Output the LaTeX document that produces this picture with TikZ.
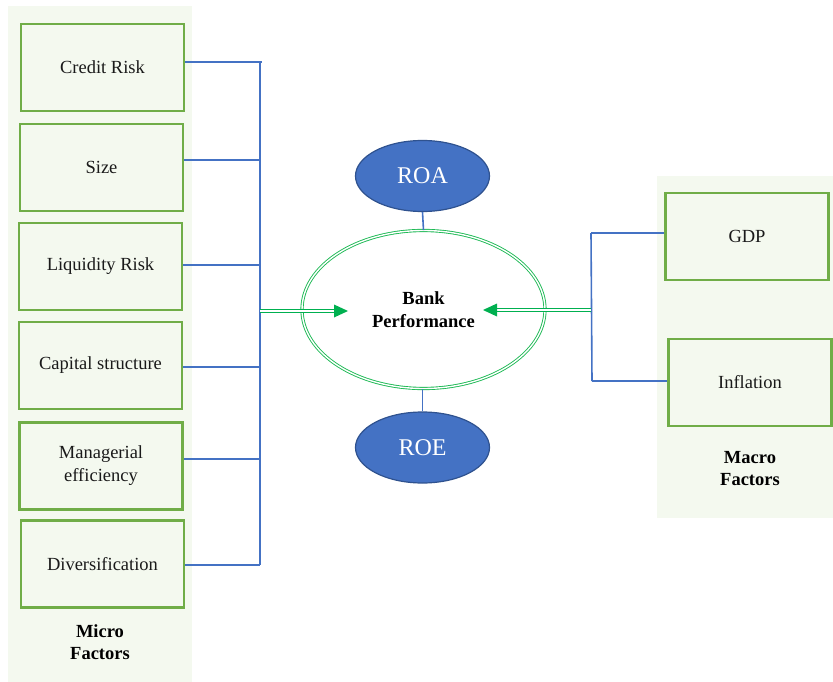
\documentclass[tikz,border=0pt]{standalone}
\usepackage{fontspec}
\setmainfont{Liberation Serif}
\usetikzlibrary{arrows.meta,shapes.geometric}
\definecolor{panelbg}{HTML}{F4F9EF}
\definecolor{boxgreen}{HTML}{70AD47}
\definecolor{busblue}{HTML}{4472C4}
\definecolor{arrgreen}{HTML}{00B050}
\definecolor{ellgreen}{HTML}{1DB954}
\definecolor{darkblue}{HTML}{2F528F}
\definecolor{txt}{HTML}{1A1A1A}
\tikzset{
  factorbox/.style={draw=boxgreen, line width=2.8pt, fill=panelbg, minimum width=163pt, minimum height=87pt, inner sep=2pt, align=center, text=txt, font=\fontsize{18.5}{23}\selectfont},
  groupname/.style={align=center, font=\fontsize{18.5}{22}\selectfont\bfseries, text=black},
  busline/.style={draw=busblue, line width=1.6pt},
  metric/.style={ellipse, draw=darkblue, line width=1.2pt, fill=busblue, minimum width=134pt, minimum height=71pt, text=white, font=\fontsize{24}{28}\selectfont},
  dbl/.style={draw=arrgreen, double=white, line width=1pt, double distance=1.3pt},
  tipfill/.style={fill=arrgreen, draw=none}
}
\begin{document}
\begin{tikzpicture}[x=1pt,y=-1pt]
\useasboundingbox (0,0) rectangle (833,682);
% panels
\fill[panelbg] (8,6) rectangle (192,682);
\fill[panelbg] (657,176) rectangle (833,518);
% left boxes
\node[factorbox] (cr) at (102.5,67.5) {Credit Risk};
\node[factorbox] (sz) at (101.5,167.5) {Size};
\node[factorbox] (lr) at (100.5,266.5) {Liquidity Risk};
\node[factorbox] (cs) at (100.5,365.5) {Capital structure};
\node[factorbox] (me) at (101,466) {Managerial\\efficiency};
\node[factorbox] (dv) at (102.5,564) {Diversification};
\node[groupname] (micro) at (100,642) {Micro\\Factors};
% right boxes
\node[factorbox] (gdp) at (747,236.5) {GDP};
\node[factorbox] (inf) at (750,382.5) {Inflation};
\node[groupname] (macro) at (750,469) {Macro\\Factors};
% center
\node[ellipse, draw=ellgreen, double=white, line width=0.9pt, double distance=1.4pt, minimum width=243pt, minimum height=158pt, align=center, font=\fontsize{18.5}{23}\selectfont\bfseries] (bp) at (423.5,309.5) {Bank\\Performance};
\node[metric] (roa) at (422.5,176) {ROA};
\node[metric] (roe) at (422.5,447.5) {ROE};
\draw[busline] (roa.south) -- (bp.north);
\draw[busline] (roe.north) -- (roe.north |- bp.south);
% left bus
\coordinate (b1) at (260,62);
\coordinate (b2) at (260,160);
\coordinate (b3) at (260,265);
\coordinate (b4) at (260,367);
\coordinate (b5) at (260,459);
\coordinate (b6) at (260,565);
\coordinate (bm) at (260,311);
\draw[busline] (b1) -- (b6);
\draw[busline] (b1 -| cr.east) -- ([xshift=2pt]b1);
\draw[busline] (b2 -| sz.east) -- (b2);
\draw[busline] (b3 -| lr.east) -- (b3);
\draw[busline] (b4 -| cs.east) -- (b4);
\draw[busline] (b5 -| me.east) -- (b5);
\draw[busline] (b6 -| dv.east) -- (b6);
% left arrow
\coordinate (ltip) at (348,311);
\draw[dbl] (bm) -- ([xshift=-12pt]ltip);
\fill[tipfill] (ltip) -- ++(-14,-6.5) -- ++(0,13) -- cycle;
% right bus
\coordinate (r1) at (591,233);
\coordinate (r2) at (592,381);
\coordinate (rm) at (591,310);
\draw[busline] (r1) -- (r2);
\draw[busline] (r1) -- (r1 -| gdp.west);
\draw[busline] (r2) -- (r2 -| inf.west);
\coordinate (rtip) at (483,310);
\draw[dbl] (rm) -- ([xshift=12pt]rtip);
\fill[tipfill] (rtip) -- ++(14,-6.5) -- ++(0,13) -- cycle;
\end{tikzpicture}
\end{document}
